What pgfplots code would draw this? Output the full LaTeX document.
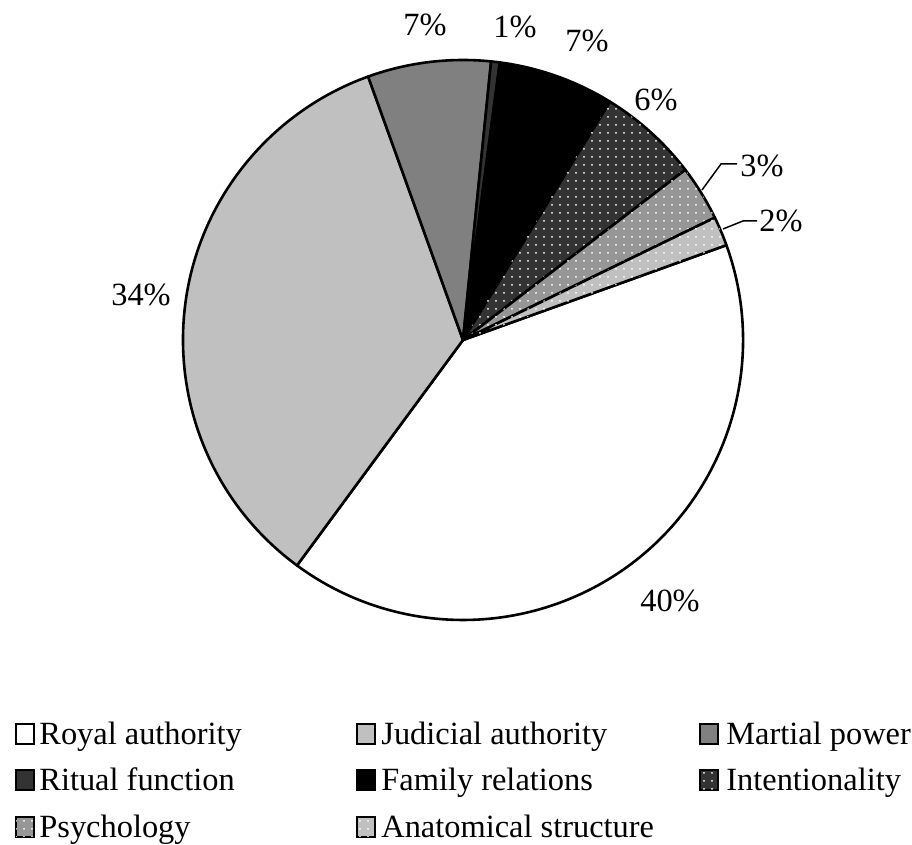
\documentclass[border=0pt]{standalone}
\usepackage{pgfplots}
\pgfplotsset{compat=1.18}
\usepackage{pgfplotstable}
\usepackage{fontspec}
\setmainfont{Liberation Serif}
\usetikzlibrary{patterns.meta}
\tikzdeclarepattern{name=wdots, type=uncolored,
  bottom left={(-1pt,-1pt)}, top right={(3pt,3pt)}, tile size={(4pt,4pt)},
  code={\fill (0,0) circle (0.5pt);}}
\definecolor{gA}{HTML}{C0C0C0}
\definecolor{gB}{HTML}{808080}
\definecolor{gC}{HTML}{333333}
\definecolor{gD}{HTML}{969696}
\tikzset{
  sl/.style={draw=black, line width=1.3pt, line join=round},
  s0/.style={sl, fill=white},
  s1/.style={sl, fill=gA},
  s2/.style={sl, fill=gB},
  s3/.style={sl, fill=gC},
  s4/.style={sl, fill=black},
  s5/.style={sl, fill=gC, postaction={pattern=wdots, pattern color=white}},
  s6/.style={sl, fill=gD, postaction={pattern=wdots, pattern color=white}},
  s7/.style={sl, fill=gA, postaction={pattern=wdots, pattern color=white}},
  lb/.style={draw=black, line width=1pt},
  lt/.style={anchor=base west, inner sep=0pt},
}
\pgfplotstableread{
value
40.6
34.4
7.1
0.5
6.7
5.8
3.2
1.7
}\piedata
\begin{document}
\fontsize{16.2}{20}\selectfont
\begin{tikzpicture}
\begin{axis}[
  scale only axis, width=456pt, height=422.5pt,
  xmin=0, xmax=912, ymin=0, ymax=845,
  hide axis, clip=false, disabledatascaling,
]
\path (axis cs:0,0) rectangle (axis cs:912,845);
\gdef\startang{19.8}
\foreach \i/\sty in {0/s0,1/s1,2/s2,3/s3,4/s4,5/s5,6/s6,7/s7} {
  \pgfplotstablegetelem{\i}{value}\of\piedata
  \pgfmathsetmacro\endang{\startang - 3.6*\pgfplotsretval}
  \edef\cmd{\noexpand\filldraw[\sty] (axis cs:463,505) -- ++(\startang:140pt) arc[start angle=\startang, end angle=\endang, radius=140pt] -- cycle;}
  \cmd
  \xdef\startang{\endang}
}
% data labels
\node at (axis cs:670,244) {40\%};
\node at (axis cs:141,550) {34\%};
\node at (axis cs:425,820) {7\%};
\node at (axis cs:515,818) {1\%};
\node at (axis cs:587,804) {7\%};
\node at (axis cs:656,745) {6\%};
\node at (axis cs:762,679) {3\%};
\node at (axis cs:781,624) {2\%};
\draw[line width=0.75pt] (axis cs:702,655) -- (axis cs:721,681) -- (axis cs:737,681);
\draw[line width=0.75pt] (axis cs:723,616) -- (axis cs:743,624) -- (axis cs:757,624);
% legend
\filldraw[lb, fill=white] (axis cs:16,101) rectangle (axis cs:34,121);
\node[lt] at (axis cs:39,100) {Royal authority};
\filldraw[lb, fill=gA] (axis cs:357,101) rectangle (axis cs:375,121);
\node[lt] at (axis cs:381,100) {Judicial authority};
\filldraw[lb, fill=gB] (axis cs:700,101) rectangle (axis cs:718,121);
\node[lt] at (axis cs:726,100) {Martial power};
\filldraw[lb, fill=gC] (axis cs:16,55) rectangle (axis cs:34,75);
\node[lt] at (axis cs:39,54) {Ritual function};
\filldraw[lb, fill=black] (axis cs:357,55) rectangle (axis cs:375,75);
\node[lt] at (axis cs:381,54) {Family relations};
\filldraw[lb, fill=gC, postaction={pattern=wdots, pattern color=white}] (axis cs:700,55) rectangle (axis cs:718,75);
\node[lt] at (axis cs:726,54) {Intentionality};
\filldraw[lb, fill=gD, postaction={pattern=wdots, pattern color=white}] (axis cs:16,8) rectangle (axis cs:34,28);
\node[lt] at (axis cs:39,7) {Psychology};
\filldraw[lb, fill=gA, postaction={pattern=wdots, pattern color=white}] (axis cs:357,8) rectangle (axis cs:375,28);
\node[lt] at (axis cs:381,7) {Anatomical structure};
\end{axis}
\end{tikzpicture}
\end{document}
